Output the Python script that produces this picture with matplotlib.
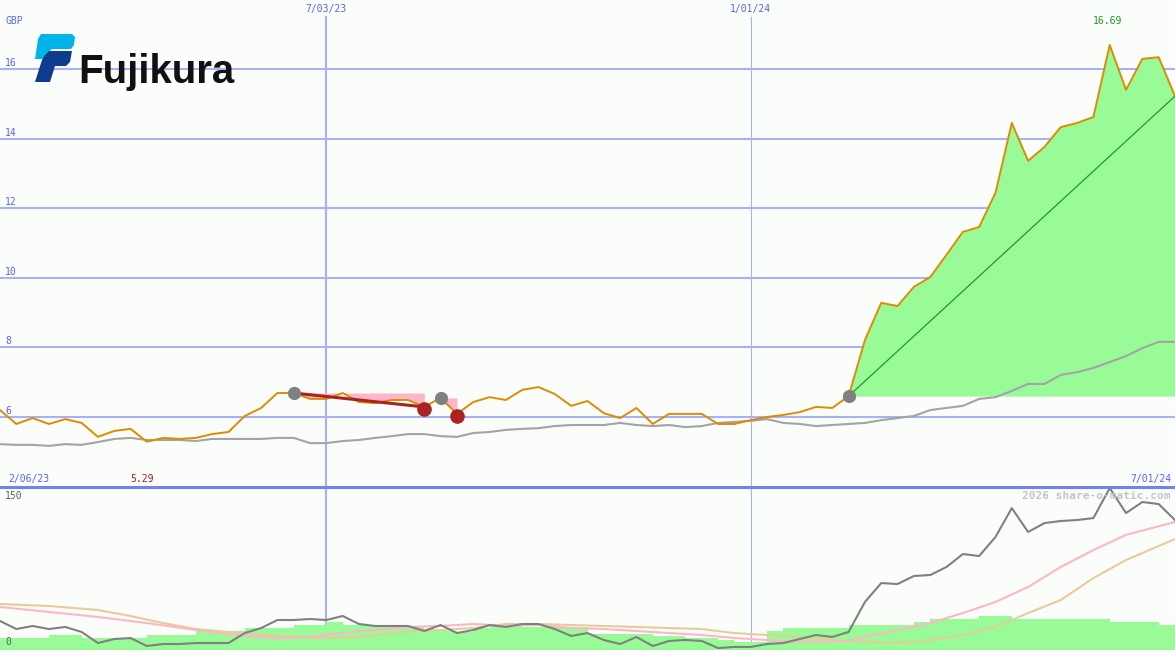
import matplotlib.pyplot as plt
from matplotlib.patches import Polygon
import numpy as np

# weekly closes (GBP), week 0 = mid Feb 2023, week 72 = 1 Jul 2024
price = [6.20, 5.80, 5.97, 5.80, 5.94, 5.83, 5.43, 5.60, 5.66, 5.29,
         5.40, 5.37, 5.40, 5.51, 5.57, 6.03, 6.26, 6.69, 6.69, 6.52,
         6.52, 6.69, 6.43, 6.40, 6.49, 6.49, 6.29, 6.55, 6.09, 6.43,
         6.57, 6.49, 6.78, 6.86, 6.66, 6.32, 6.46, 6.11, 5.97, 6.26,
         5.80, 6.09, 6.09, 6.09, 5.80, 5.80, 5.91, 6.00, 6.06, 6.14,
         6.29, 6.26, 6.60, 8.21, 9.28, 9.19, 9.74, 10.02, 10.66, 11.32,
         11.46, 12.44, 14.45, 13.36, 13.76, 14.33, 14.45, 14.62, 16.69, 15.40,
         16.29, 16.34, 15.22]
avg = [5.22, 5.20, 5.20, 5.17, 5.22, 5.20, 5.28, 5.37, 5.40, 5.34,
       5.34, 5.34, 5.31, 5.37, 5.37, 5.37, 5.37, 5.40, 5.40, 5.25,
       5.25, 5.31, 5.34, 5.40, 5.45, 5.51, 5.51, 5.45, 5.43, 5.54,
       5.57, 5.63, 5.66, 5.68, 5.74, 5.77, 5.77, 5.77, 5.83, 5.77,
       5.74, 5.77, 5.71, 5.74, 5.83, 5.86, 5.89, 5.94, 5.83, 5.80,
       5.74, 5.77, 5.80, 5.83, 5.91, 5.97, 6.03, 6.20, 6.26, 6.32,
       6.52, 6.57, 6.75, 6.95, 6.95, 7.21, 7.29, 7.41, 7.58, 7.75,
       7.98, 8.16, 8.16]

# lower panel
strength = [26.7, 19.3, 22.1, 19.3, 21.2, 16.6, 6.4, 10.1, 11.0, 3.7,
            5.5, 5.5, 6.4, 6.4, 6.4, 15.6, 20.2, 27.6, 27.6, 28.5,
            27.6, 31.3, 23.9, 22.1, 22.1, 22.1, 17.5, 23.0, 15.6, 18.4,
            23.0, 21.2, 23.9, 23.9, 19.3, 12.9, 15.6, 9.2, 5.5, 12.0,
            3.7, 8.3, 9.2, 8.3, 1.8, 2.8, 2.8, 5.5, 6.4, 10.1,
            13.8, 12.0, 16.6, 44.2, 61.6, 60.7, 68.1, 69.0, 76.4, 88.3,
            86.5, 104.0, 130.6, 108.6, 116.8, 118.7, 119.6, 121.4, 149.0, 126.0,
            136.2, 134.3, 119.6]
volume = [11.0, 11.0, 11.0, 13.8, 13.8, 11.0, 11.0, 11.0, 11.0, 13.8,
          13.8, 13.8, 17.5, 17.5, 17.5, 20.2, 20.2, 20.2, 23.0, 23.0,
          25.8, 23.0, 23.0, 23.0, 22.1, 21.2, 19.3, 17.5, 16.6, 20.2,
          22.1, 22.1, 21.2, 21.2, 21.2, 21.2, 14.7, 14.7, 14.7, 14.7,
          12.9, 12.9, 11.0, 11.0, 9.2, 7.4, 7.4, 17.5, 20.2, 20.2,
          20.2, 20.2, 23.0, 23.0, 23.0, 23.0, 25.8, 28.5, 28.5, 28.5,
          31.3, 31.3, 28.5, 28.5, 28.5, 28.5, 28.5, 28.5, 25.8, 25.8,
          25.8, 23.0, 23.0]
pink_wk = [0, 3, 6, 9, 12, 15, 17, 19, 21, 23, 25, 27, 29, 31, 33, 35, 37, 39,
           41, 43, 45, 47, 49, 52, 53, 55, 57, 59, 61, 63, 65, 67, 69, 72]
pink_ma = [39.6, 35.0, 30.4, 24.8, 18.4, 12.9, 11.0, 12.0, 15.6, 18.4, 21.2, 22.1,
           23.9, 22.5, 23.0, 20.2, 19.3, 17.5, 15.6, 13.8, 11.0, 9.2, 7.4, 8.3,
           12.0, 18.4, 24.8, 34.0, 44.2, 58.0, 76.4, 92.0, 106.0, 117.8]
tan_wk = [0, 3, 6, 8, 10, 12, 14, 16, 18, 20, 22, 24, 27, 29, 31, 33, 35, 37,
          39, 41, 43, 45, 47, 49, 51, 53, 55, 57, 59, 61, 63, 65, 67, 69, 72]
tan_ma = [42.3, 40.5, 36.8, 31.3, 24.8, 19.3, 16.6, 13.8, 12.0, 11.0, 12.0, 15.6,
          18.4, 20.2, 23.9, 23.9, 23.0, 22.1, 21.2, 20.2, 19.3, 15.6, 13.8, 12.0,
          9.2, 7.4, 6.4, 9.2, 13.8, 21.2, 34.0, 46.0, 66.2, 82.8, 102.1]

price_ticks = [6, 8, 10, 12, 14, 16]
date_lines = [20, 46]
date_labels = ['7/03/23', '1/01/24']
sell_trades = [(18, 26), (27, 28)]   # (entry week, exit week)
buy_week = 52

W, H = 1175, 650
bg = '#fbfdfb'
blue_txt = '#5565f0'
grid_c = '#a6b2f4'
x = np.arange(len(price))

fig = plt.figure(figsize=(W / 100, H / 100), dpi=100, facecolor=bg)
top = fig.add_axes([0, 163 / H, 1, 487 / H])
bot = fig.add_axes([0, 0, 1, 163 / H])
for ax in (top, bot):
    ax.set_facecolor(bg)
    ax.set_axis_off()
    ax.set_xlim(0, 72)
top.set_ylim(3.989, 17.983)
bot.set_ylim(0, 150)


def px(xp, yp):
    return xp / W, 1 - yp / H


mono = 'DejaVu Sans Mono'

# grid
for v in price_ticks:
    top.axhline(v, color=grid_c, lw=1.5, zorder=1)
    fig.text(*px(5, 68 + (16 - v) * 34.8), str(v), color=blue_txt, fontsize=7,
             family=mono, va='bottom', ha='left')
fig.text(*px(5, 26), 'GBP', color=blue_txt, fontsize=7, family=mono, va='bottom')
for wk, lab, lw in zip(date_lines, date_labels, [1.5, 0.8]):
    top.axvline(wk, ymax=(487 - 17) / 487, color=grid_c, lw=lw, zorder=1)
    bot.axvline(wk, color=grid_c, lw=lw, zorder=1)
    fig.text(wk / 72, 1 - 14 / H, lab, color=blue_txt, fontsize=7, family=mono,
             ha='center', va='bottom')

# buy / hold area
top.fill_between(x[buy_week:], price[buy_week], price[buy_week:], color='#98fb98',
                 lw=0, zorder=2)
# sell areas
for a, b in sell_trades:
    top.fill_between(x[a:b + 1], price[a], price[a:b + 1], color='#ffb6c8', lw=0, zorder=2)

top.plot(x, avg, color='#a4a4a4', lw=1.5, zorder=3)
top.plot(x, price, color='#dc8c00', lw=1.4, zorder=4)
top.plot([buy_week, x[-1]], [price[buy_week], price[-1]], color='#229922', lw=0.9, zorder=5)
top.plot(sell_trades[0], [price[18], price[26]], color='#aa2222', lw=2.2, zorder=5)

for a, b in sell_trades:
    top.plot(a, price[a], 'o', color='#808080', ms=8.5, zorder=6)
    top.plot(b, price[b] - 0.05, 'o', color='#aa2222', ms=9.5, zorder=6)
top.plot(buy_week, price[buy_week], 'o', color='#808080', ms=8.5, zorder=6)

# lower panel
bot.bar(x, volume, width=1, align='edge', color='#98fb98', lw=0, zorder=2)
bot.plot(tan_wk, tan_ma, color='#e6cc9a', lw=1.5, zorder=3)
bot.plot(pink_wk, pink_ma, color='#ffb6c4', lw=1.5, zorder=3)
bot.plot(x, strength, color='#808080', lw=1.5, zorder=4)

fig.add_artist(plt.Line2D([0, 1], [163 / H, 163 / H], color='#7282ee', lw=2.2))
fig.text(*px(8, 484), '2/06/23', color=blue_txt, fontsize=7, family=mono, va='bottom')
fig.text(*px(130, 484), f'{min(price):.2f}', color='#a02020', fontsize=7, family=mono,
         va='bottom')
fig.text(*px(1171, 484), '7/01/24', color=blue_txt, fontsize=7, family=mono,
         va='bottom', ha='right')
fig.text(*px(5, 501), '150', color='#606060', fontsize=7, family=mono, va='bottom')
fig.text(*px(5, 647), '0', color='#606060', fontsize=7, family=mono, va='bottom')
fig.text(*px(1171, 501), '2026 share-o-matic.com', color='#c4c4c4', fontsize=8,
         family=mono, weight='bold', va='bottom', ha='right')
fig.text(*px(1108, 26), f'{max(price):.2f}', color='#229922', fontsize=7, family=mono,
         ha='center', va='bottom')

# logo
cyan = [(41, 34), (72, 34), (75, 37), (74, 45), (71, 49), (52, 49), (47, 53), (44, 59),
        (35, 59), (38, 39)]
navy = [(49, 51), (72, 51), (70, 62), (66, 66), (55, 66), (50, 82), (35, 82), (42, 60), (45, 55)]
fig.add_artist(Polygon([px(*p) for p in cyan], closed=True, color='#00b4ea', lw=0))
fig.add_artist(Polygon([px(*p) for p in navy], closed=True, color='#0d3d8c', lw=0))
fig.text(*px(78, 83), 'Fujikura', color='#111111', fontsize=29, family='Liberation Sans',
         weight='bold', va='baseline', ha='left')

fig.savefig('out.png', dpi=100, facecolor=bg)
